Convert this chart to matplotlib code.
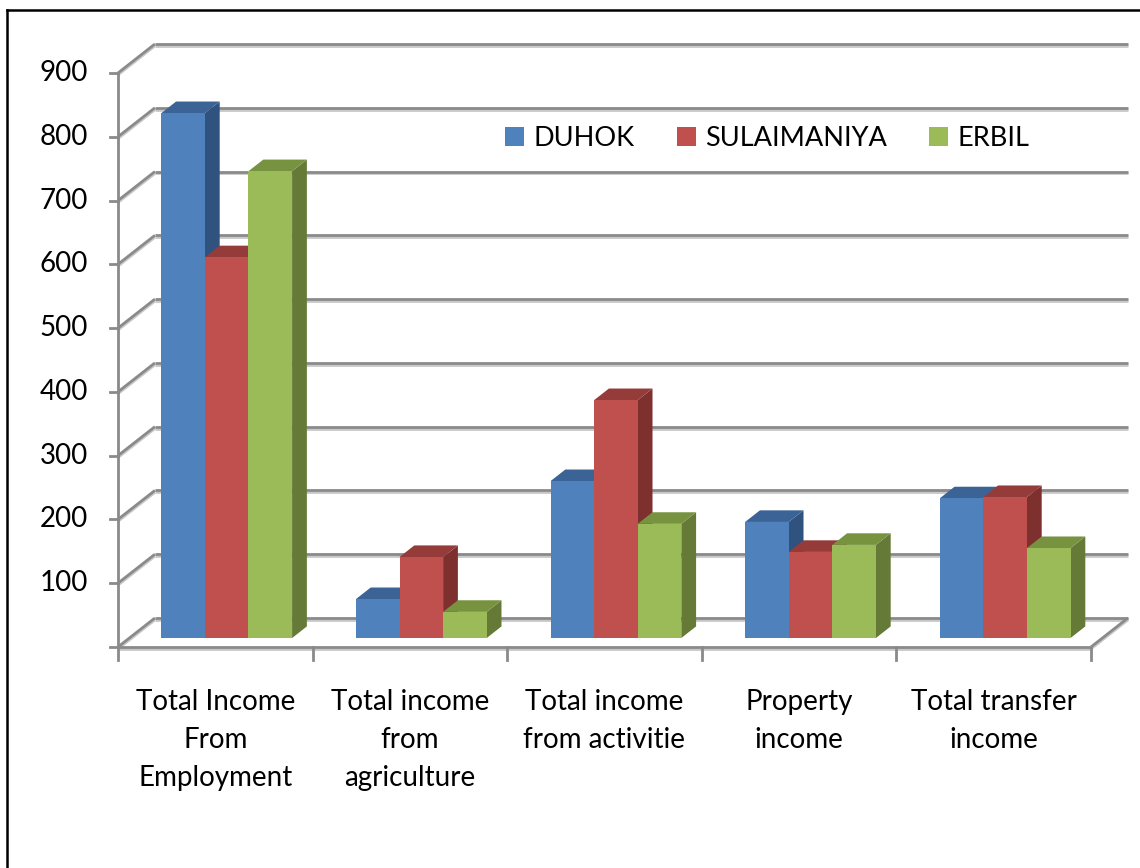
import matplotlib.pyplot as plt
from matplotlib.lines import Line2D
from matplotlib.patches import Patch, Polygon

# ============================================================
# Data
# ============================================================

categories = [
    "Total Income\nFrom\nEmployment",
    "Total income\nfrom\nagriculture",
    "Total income\nfrom activitie",
    "Property\nincome",
    "Total transfer\nincome",
]

series_names = ["DUHOK", "SULAIMANIYA", "ERBIL"]

duhok = [823, 61, 246, 182, 219]
sulaimaniya = [597, 127, 373, 135, 221]
erbil = [732, 41, 179, 146, 141]

y_ticks = [0, 100, 200, 300, 400, 500, 600, 700, 800, 900]
y_labels = ["", "100", "200", "300", "400", "500", "600", "700", "800", "900"]

# ============================================================
# Style
# ============================================================

face_colors = ["#4F81BD", "#C0504D", "#9BBB59"]
top_colors = ["#3C6395", "#953C3A", "#77933F"]
side_colors = ["#30527F", "#7D302E", "#667A37"]

grid_color = "#8A8A8A"
shadow_color = "#C8C8C8"

# oblique depth of floor / walls (category units, value units)
DX = 0.19
DY = 45.5

# depth slice the bars sit in (0 = front edge, 1 = back wall)
BAR_T0 = 0.31
BAR_T1 = 0.71

GAP = 0.164
WIDTH = 0.224

plt.rcParams["font.family"] = ["Lato", "DejaVu Sans"]

fig = plt.figure(figsize=(11.4, 8.68), dpi=100)
ax = fig.add_axes([0, 0, 1, 1])
ax.set_xlim(-0.606, 5.252)
ax.set_ylim(-346.5, 1014.5)
ax.axis("off")

n = len(categories)

# ============================================================
# Walls, floor and axes
# ============================================================

def wall_line(xs, ys):
    ax.plot(xs, [y - 3 for y in ys], color=shadow_color, lw=2.0,
            solid_capstyle="butt", zorder=1)
    ax.plot(xs, ys, color=grid_color, lw=2.0,
            solid_capstyle="butt", zorder=2)

for v in y_ticks:
    # back wall gridline
    wall_line([DX, n + DX], [v + DY, v + DY])
    # side wall slant
    wall_line([0, DX], [v, v + DY])
    # tick mark on the front axis
    ax.plot([-0.04, 0], [v, v], color=grid_color, lw=2.0, zorder=2)

# front vertical axis
ax.plot([0, 0], [0, y_ticks[-1]], color=grid_color, lw=2.0, zorder=2)

# floor front edge and right edge
wall_line([0, n], [0, 0])
wall_line([n, n + DX], [0, DY])

for i in range(n + 1):
    ax.plot([i, i], [0, -20], color=grid_color, lw=2.0, zorder=2)

# ============================================================
# Bars
# ============================================================

values = [duhok, sulaimaniya, erbil]
ddx = (BAR_T1 - BAR_T0) * DX
ddy = (BAR_T1 - BAR_T0) * DY

for i in range(n):
    for j, series in enumerate(values):
        v = series[i]
        x0 = i + BAR_T0 * DX + GAP + j * WIDTH
        x1 = x0 + WIDTH
        y0 = BAR_T0 * DY
        y1 = y0 + v

        front = Polygon([(x0, y0), (x1, y0), (x1, y1), (x0, y1)],
                        closed=True, facecolor=face_colors[j],
                        edgecolor="none", zorder=5)
        top = Polygon([(x0, y1), (x1, y1), (x1 + ddx, y1 + ddy),
                       (x0 + ddx, y1 + ddy)],
                      closed=True, facecolor=top_colors[j],
                      edgecolor="none", zorder=5)
        side = Polygon([(x1, y0), (x1, y1), (x1 + ddx, y1 + ddy),
                        (x1 + ddx, y0 + ddy)],
                       closed=True, facecolor=side_colors[j],
                       edgecolor="none", zorder=5)

        ax.add_patch(side)
        ax.add_patch(top)
        ax.add_patch(front)

# ============================================================
# Labels and legend
# ============================================================

for v, lab in zip(y_ticks, y_labels):
    ax.text(-0.154, v, lab, ha="right", va="center", fontsize=20)

for i, cat in enumerate(categories):
    ax.text(i + 0.5, -66, cat, ha="center", va="top",
            fontsize=20, linespacing=1.58)

handles = [Patch(facecolor=c, edgecolor="none") for c in face_colors]

ax.legend(
    handles,
    series_names,
    ncol=3,
    loc="upper left",
    bbox_to_anchor=(505 / 1140, 1 - 126 / 868),
    bbox_transform=fig.transFigure,
    frameon=False,
    fontsize=19.5,
    handlelength=0.7,
    handleheight=0.7,
    handletextpad=0.35,
    columnspacing=1.55,
    borderpad=0,
    borderaxespad=0,
)

# chart border (top and left edges)
fig.add_artist(Line2D([7 / 1140, 1], [1 - 10 / 868, 1 - 10 / 868],
                      transform=fig.transFigure, color="black", lw=1.8))
fig.add_artist(Line2D([7 / 1140, 7 / 1140], [0, 1 - 10 / 868],
                      transform=fig.transFigure, color="black", lw=1.8))

fig.savefig("out.png", dpi=100)
